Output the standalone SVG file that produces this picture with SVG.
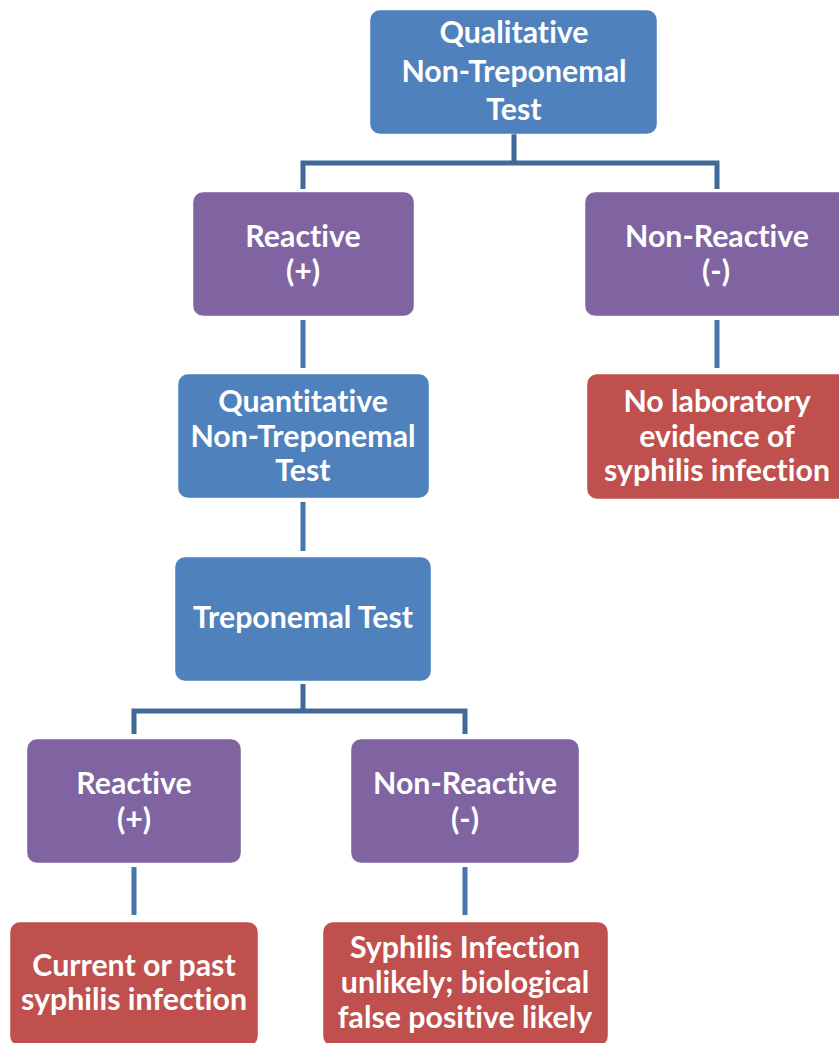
<svg xmlns="http://www.w3.org/2000/svg" width="839" height="1043" viewBox="0 0 839 1043">
<style>
.box{stroke:#ffffff;stroke-opacity:0.45;stroke-width:1}
.blue{fill:#4F81BD}
.purple{fill:#8064A2}
.red{fill:#C0504D}
.t{font-family:Lato,"Open Sans","Liberation Sans",sans-serif;font-weight:700;font-size:30.3px;fill:#ffffff;text-anchor:middle;font-variant-ligatures:none;font-feature-settings:"liga" 0}
.br{fill:none;stroke:#3F6997;stroke-width:5}
.ln{fill:none;stroke:#4775AC;stroke-width:5}
</style>
<rect width="839" height="1043" fill="#ffffff"/>
<g id="connectors">
<path class="br" d="M514,134 V163 M303,163 H717 M303,160.5 V189 M717,160.5 V189"/>
<path class="ln" d="M303,320 V368"/>
<path class="ln" d="M717,320 V368"/>
<path class="ln" d="M303,502 V551"/>
<path class="br" d="M303,684 V711 M134,711 H465 M134,708.5 V734 M465,708.5 V734"/>
<path class="ln" d="M134,867 V915"/>
<path class="ln" d="M465,867 V915"/>
</g>
<g id="qualitative">
<rect class="box blue" x="370" y="10" width="287" height="124" rx="10"/>
<text class="t" x="514" y="43">Qualitative</text>
<text class="t" x="514" y="82">Non-Treponemal</text>
<text class="t" x="514" y="120">Test</text>
</g>
<g id="reactive1">
<rect class="box purple" x="193" y="192" width="221" height="124" rx="10"/>
<text class="t" x="303" y="247">Reactive</text>
<text class="t" x="303" y="282">(+)</text>
</g>
<g id="nonreactive1">
<rect class="box purple" x="585" y="192" width="264" height="124" rx="10"/>
<text class="t" x="717" y="247">Non-Reactive</text>
<text class="t" x="716" y="282">(-)</text>
</g>
<g id="quantitative">
<rect class="box blue" x="178" y="374" width="251" height="124" rx="10"/>
<text class="t" x="303" y="412">Quantitative</text>
<text class="t" x="303" y="447">Non-Treponemal</text>
<text class="t" x="303" y="481">Test</text>
</g>
<g id="no-evidence">
<rect class="box red" x="587" y="374" width="262" height="125" rx="10"/>
<text class="t" x="717" y="412">No laboratory</text>
<text class="t" x="717" y="447">evidence of</text>
<text class="t" x="717" y="481">syphilis infection</text>
</g>
<g id="treponemal">
<rect class="box blue" x="175" y="557" width="256" height="124" rx="10"/>
<text class="t" x="303" y="628">Treponemal Test</text>
</g>
<g id="reactive2">
<rect class="box purple" x="27" y="739" width="214" height="124" rx="10"/>
<text class="t" x="134" y="794">Reactive</text>
<text class="t" x="134" y="830">(+)</text>
</g>
<g id="nonreactive2">
<rect class="box purple" x="351" y="739" width="228" height="124" rx="10"/>
<text class="t" x="465" y="794">Non-Reactive</text>
<text class="t" x="465" y="830">(-)</text>
</g>
<g id="current-past">
<rect class="box red" x="10" y="922" width="248" height="124" rx="10"/>
<text class="t" x="134" y="976">Current or past</text>
<text class="t" x="134" y="1010">syphilis infection</text>
</g>
<g id="unlikely">
<rect class="box red" x="323" y="922" width="285" height="124" rx="10"/>
<text class="t" x="465" y="958">Syphilis Infection</text>
<text class="t" x="465" y="993">unlikely; biological</text>
<text class="t" x="465" y="1028">false positive likely</text>
</g>
</svg>
